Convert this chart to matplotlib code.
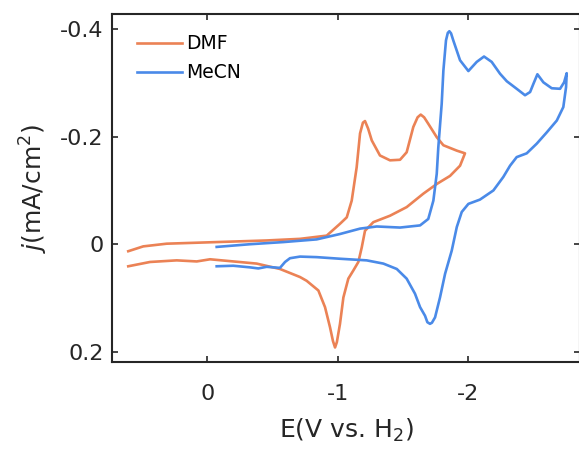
import matplotlib
matplotlib.use('Agg')
import matplotlib.pyplot as plt

plt.rcParams['font.family'] = ['DejaVu Sans']
plt.rcParams['mathtext.fontset'] = 'dejavusans'

# DMF cyclic voltammogram (E in V, j in mA/cm2)
dmf_E = [0.607, 0.492, 0.312, 0.056, -0.200, -0.456, -0.712, -0.917, -1.019, -1.071,
         -1.109, -1.147, -1.173, -1.195, -1.211, -1.235, -1.263, -1.326, -1.403, -1.480,
         -1.531, -1.582, -1.615, -1.639, -1.665, -1.697, -1.762, -1.813, -1.916, -1.979,
         -1.941, -1.864, -1.762, -1.659, -1.531, -1.403, -1.275, -1.211, -1.186, -1.160,
         -1.121, -1.083, -1.045, -1.019, -0.995, -0.981, -0.965, -0.942, -0.904, -0.853,
         -0.763, -0.712, -0.558, -0.379, -0.200, -0.021, 0.081, 0.235, 0.440, 0.607]
dmf_j = [0.013, 0.004, -0.001, -0.003, -0.005, -0.007, -0.010, -0.016, -0.038, -0.050,
         -0.081, -0.143, -0.206, -0.226, -0.229, -0.215, -0.193, -0.165, -0.156, -0.157,
         -0.171, -0.218, -0.236, -0.241, -0.236, -0.224, -0.199, -0.184, -0.174, -0.169,
         -0.146, -0.127, -0.112, -0.094, -0.069, -0.053, -0.041, -0.025, 0.006, 0.033,
         0.049, 0.064, 0.099, 0.148, 0.182, 0.192, 0.180, 0.154, 0.117, 0.086,
         0.068, 0.061, 0.046, 0.036, 0.032, 0.028, 0.032, 0.030, 0.033, 0.041]

# MeCN cyclic voltammogram
mecn_E = [-0.072, -0.328, -0.584, -0.840, -1.019, -1.173, -1.301, -1.480, -1.634, -1.697,
          -1.736, -1.762, -1.774, -1.800, -1.813, -1.833, -1.847, -1.859, -1.872, -1.889,
          -1.941, -2.005, -2.069, -2.125, -2.184, -2.248, -2.300, -2.376, -2.440, -2.479,
          -2.504, -2.535, -2.581, -2.645, -2.709, -2.740, -2.760,
          -2.755, -2.734, -2.684, -2.607, -2.530, -2.453, -2.376, -2.325, -2.273, -2.197,
          -2.094, -2.005, -1.954, -1.916, -1.877, -1.826, -1.787, -1.749, -1.725, -1.710,
          -1.690, -1.672, -1.634, -1.595, -1.531, -1.455, -1.352, -1.224, -1.019, -0.840,
          -0.712, -0.635, -0.597, -0.558, -0.456, -0.392, -0.328, -0.200, -0.072]
mecn_j = [0.005, 0.000, -0.004, -0.009, -0.019, -0.029, -0.033, -0.031, -0.035, -0.047,
          -0.081, -0.131, -0.180, -0.261, -0.323, -0.379, -0.393, -0.396, -0.392, -0.379,
          -0.342, -0.322, -0.339, -0.349, -0.339, -0.317, -0.303, -0.289, -0.277, -0.283,
          -0.298, -0.316, -0.301, -0.290, -0.289, -0.301, -0.318,
          -0.292, -0.255, -0.230, -0.208, -0.187, -0.169, -0.162, -0.146, -0.125, -0.100,
          -0.083, -0.075, -0.060, -0.032, 0.012, 0.055, 0.099, 0.136, 0.146, 0.148,
          0.145, 0.133, 0.117, 0.092, 0.064, 0.046, 0.036, 0.030, 0.027, 0.024,
          0.023, 0.026, 0.033, 0.044, 0.042, 0.045, 0.043, 0.040, 0.041]

xticks = [0, -1, -2]
yticks = [-0.4, -0.2, 0, 0.2]

fig = plt.figure(figsize=(5.79, 4.51), dpi=100)
ax = fig.add_axes([0.1934, 0.1973, 0.8083, 0.7716])

ax.plot(dmf_E, dmf_j, color='#EB8255', lw=1.9, label='DMF')
ax.plot(mecn_E, mecn_j, color='#4A8AE8', lw=1.9, label='MeCN')

ax.set_xlim(0.732, -2.862)
ax.set_ylim(0.219, -0.428)
ax.set_xticks(xticks)
ax.set_xticklabels(['0', '-1', '-2'])
ax.set_yticks(yticks)
ax.set_yticklabels(['-0.4', '-0.2', '0', '0.2'])

ax.tick_params(direction='in', length=4, width=1.2, colors='#262626',
               labelsize=16, top=True, right=True)
ax.tick_params(axis='x', pad=16)
ax.tick_params(axis='y', pad=6)
for sp in ax.spines.values():
    sp.set_linewidth(1.5)
    sp.set_color('#262626')

ax.set_xlabel('E(V vs. H$_2$)', fontsize=18, color='#262626', labelpad=9)
ax.set_ylabel('$j$(mA/cm$^2$)', fontsize=18, color='#262626', labelpad=7)

ax.legend(loc='upper left', frameon=False, fontsize=13.5, handlelength=2.4,
          handletextpad=0.25, borderaxespad=0.3, labelspacing=0.55,
          bbox_to_anchor=(0.025, 0.98))

plt.savefig('out.png', dpi=100)
